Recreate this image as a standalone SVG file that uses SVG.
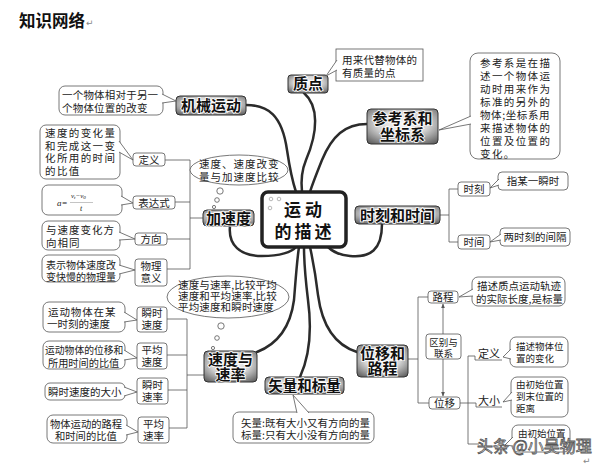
<svg xmlns="http://www.w3.org/2000/svg" width="601" height="467" viewBox="0 0 601 467">
<defs>
<radialGradient id="g" cx="0.5" cy="0.42" r="0.72">
<stop offset="0" stop-color="#fafafa"/>
<stop offset="0.5" stop-color="#d4d4d4"/>
<stop offset="1" stop-color="#5e5e5e"/>
</radialGradient>
<marker id="ah" viewBox="0 0 8 8" refX="7" refY="4" markerWidth="6" markerHeight="6" orient="auto-start-reverse">
<path d="M0,0.8 L8,4 L0,7.2 Z" fill="#555"/>
</marker>
<style>
.t{font-family:"Noto Sans CJK SC","Noto Sans",sans-serif;font-weight:700;font-size:15px;fill:#111;text-anchor:middle;stroke:#fff;stroke-width:1.6px;paint-order:stroke}
.d{font-family:"Noto Sans CJK SC","Noto Sans",sans-serif;font-size:10.5px;fill:#222}
.m{text-anchor:middle}
.topic{fill:url(#g);stroke:#333;stroke-width:1}
.box{fill:#fff;stroke:#555;stroke-width:0.8}
.br{fill:none;stroke:#555;stroke-width:0.8}
.main{fill:none;stroke:#2b2b2b;stroke-width:2.5;stroke-linecap:round}
.tail{fill:#fff;stroke:#555;stroke-width:0.8}
.bub{fill:#fff;stroke:#555;stroke-width:0.8}
.s{font-size:9.5px}
</style>
</defs>
<rect width="601" height="467" fill="#fff"/>

<g id="title">
<text x="19" y="27" style="font-family:'Noto Sans CJK SC',sans-serif;font-weight:700;font-size:16.5px;fill:#111">知识网络</text>
<text x="86" y="26" style="font-family:'DejaVu Sans',sans-serif;font-size:9px;fill:#888">↵</text>
</g>

<g id="connectors">
<path class="main" d="M246,105 C268,105 282,115 287,150 C290,170 293,183 296,192"/>
<path class="main" d="M304,93 C319,106 318,132 306,160 C301,172 301,183 302,192"/>
<path class="main" d="M367,124 C345,124 332,136 322,160 C316,175 312,185 310,192"/>
<path class="main" d="M382,224 C382,250 370,258 350,256 C338,255 332,251 328,247"/>
<path class="main" d="M230,226 C228,245 240,256 262,256 C280,256 292,252 296,247"/>
<path class="main" d="M257,352 C275,345 290,330 294,300 C296,275 297,260 299,247"/>
<path class="main" d="M300,377 C310,355 312,330 308,300 C305,275 304,260 304,247"/>
<path class="main" d="M357,352 C335,345 322,325 318,295 C315,270 312,256 310,247"/>
<path class="br" d="M165,160 H190 M175,202 H190 M167,239 H190 M167,269 H190 M190,160 V269 M190,218 H203"/>
<path class="br" d="M167,319 H187 M167,355 H187 M168,390 H187 M169,428 H187 M187,319 V428 M187,375 H204"/>
<path class="br" d="M440,215 H449 M449,189 V242 M449,189 H458 M449,242 H458"/>
<path class="br" d="M408,359 H418 M418,297 V403 M418,297 H428 M418,403 H429"/>
<path class="br" d="M443,334 V304" marker-end="url(#ah)"/>
<path class="br" d="M443,359 V396" marker-end="url(#ah)"/>
<path class="br" d="M460,403 H476 V407 H502"/>
<path class="br" d="M468,444 V356 H475 V360 H502 M468,444 H479"/>
</g>

<g id="center">
<rect x="262" y="192" width="84" height="55" rx="6" fill="#fff" stroke="#222" stroke-width="3.5"/>
<circle cx="271" cy="199" r="1.8" fill="none" stroke="#999" stroke-width="0.7"/>
<circle cx="279" cy="199" r="1.8" fill="none" stroke="#999" stroke-width="0.7"/>
<circle cx="270" cy="208" r="1.8" fill="none" stroke="#999" stroke-width="0.7"/>
<text x="305" y="216" style="font-family:'Noto Sans CJK SC',serif;font-weight:700;font-size:17px;fill:#111;text-anchor:middle;letter-spacing:4px">运动<tspan x="304.5" dy="22" style="letter-spacing:3px">的描述</tspan></text>
</g>

<g id="jixie">
<rect class="topic" x="176" y="96" width="70" height="19" rx="4"/>
<text class="t" x="211" y="111">机械运动</text>
</g>
<g id="jixie-desc">
<rect class="box" x="59" y="86" width="104" height="29" rx="6"/>
<path class="tail" d="M162,94 L176,101 L162,103"/>
<text class="d" x="62" y="99" style="letter-spacing:0.2px">一个物体相对于另一<tspan x="62" dy="13">个物体位置的改变</tspan></text>
</g>

<g id="zhidian">
<rect class="topic" x="288" y="75" width="40" height="18" rx="3"/>
<text class="t" x="308" y="89">质点</text>
</g>
<g id="zhidian-desc">
<rect class="box" x="336" y="49" width="87" height="32"/>
<path class="tail" d="M337,60 L326,76 L337,70"/>
<text class="d" x="342" y="64" style="letter-spacing:0.25px">用来代替物体的<tspan x="342" dy="13">有质量的点</tspan></text>
</g>

<g id="cankao">
<rect class="topic" x="367" y="109" width="71" height="35" rx="4"/>
<text class="t" x="402.5" y="124">参考系和<tspan x="402.5" dy="16">坐标系</tspan></text>
</g>
<g id="cankao-desc">
<rect class="box" x="470" y="53" width="90" height="106" rx="8"/>
<path class="tail" d="M471,116 L439,130 L471,124"/>
<text class="d" x="480" y="67" style="letter-spacing:1.4px">参考系是在描<tspan x="480" dy="13">述一个物体运</tspan><tspan x="480" dy="13">动时用来作为</tspan><tspan x="480" dy="13">标准的另外的</tspan><tspan x="480" dy="13" style="letter-spacing:0.6px">物体;坐标系用</tspan><tspan x="480" dy="13">来描述物体的</tspan><tspan x="480" dy="13">位置及位置的</tspan><tspan x="480" dy="12.5">变化。</tspan></text>
</g>

<g id="shike-shijian">
<rect class="topic" x="355" y="206" width="85" height="18" rx="4"/>
<text class="t" x="397.5" y="220.5">时刻和时间</text>
</g>
<g id="shike">
<rect class="box" x="458" y="182" width="32" height="14" rx="3"/>
<text class="d m" x="474" y="193">时刻</text>
</g>
<g id="shike-desc">
<rect class="box" x="498" y="172" width="70" height="18" rx="4"/>
<path class="tail" d="M499,179 L490,188 L499,185"/>
<text class="d m" x="533" y="185">指某一瞬时</text>
</g>
<g id="shijian">
<rect class="box" x="458" y="235" width="32" height="14" rx="3"/>
<text class="d m" x="474" y="246">时间</text>
</g>
<g id="shijian-desc">
<rect class="box" x="500" y="228" width="70" height="18" rx="4"/>
<path class="tail" d="M501,234 L490,242 L501,240"/>
<text class="d m" x="535" y="241">两时刻的间隔</text>
</g>

<g id="jiasudu">
<rect class="topic" x="203" y="210" width="51" height="16" rx="4"/>
<text class="t" x="228.5" y="223.5">加速度</text>
</g>
<g id="jiasudu-bubble">
<ellipse class="bub" cx="239" cy="170" rx="49" ry="15"/>
<circle class="bub" cx="220" cy="191" r="3.2"/>
<circle class="bub" cx="217" cy="200" r="2.3"/>
<circle class="bub" cx="214" cy="207" r="1.6"/>
<text class="d" x="199" y="168" style="letter-spacing:1px">速度、速度改变<tspan x="199" dy="13">量与加速度比较</tspan></text>
</g>
<g id="dingyi">
<rect class="box" x="133" y="153" width="32" height="13" rx="3"/>
<text class="d m" x="149" y="163.5">定义</text>
</g>
<g id="dingyi-desc">
<rect class="box" x="40" y="125" width="80" height="54" rx="6"/>
<path class="tail" d="M119,141 L133,160 L119,152"/>
<text class="d" x="45" y="137" style="letter-spacing:1.4px">速度的变化量<tspan x="45" dy="12.5">和完成这一变</tspan><tspan x="45" dy="12.5">化所用的时间</tspan><tspan x="45" dy="12.5">的比值</tspan></text>
</g>
<g id="biaodashi">
<rect class="box" x="133" y="196" width="42" height="13" rx="3"/>
<text class="d m" x="154" y="206.5">表达式</text>
</g>
<g id="biaodashi-desc">
<rect class="box" x="42" y="185" width="80" height="30" rx="6"/>
<path class="tail" d="M121,196 L133,203 L121,205"/>
<text x="57" y="206" style="font-family:'Liberation Serif',serif;font-style:italic;font-size:9px;fill:#222">a=</text>
<text x="71" y="198" style="font-family:'Liberation Serif',serif;font-style:italic;font-size:7px;fill:#222">v<tspan font-size="5" dy="1">t</tspan><tspan dy="-1">−v</tspan><tspan font-size="5" dy="1">0</tspan></text>
<path d="M70,202.5 H93" stroke="#888" stroke-width="0.5"/>
<text x="80" y="211" style="font-family:'Liberation Serif',serif;font-style:italic;font-size:8px;fill:#222">t</text>
</g>
<g id="fangxiang">
<rect class="box" x="135" y="233" width="32" height="12" rx="3"/>
<text class="d m" x="151" y="243">方向</text>
</g>
<g id="fangxiang-desc">
<rect class="box" x="42" y="221" width="78" height="29" rx="6"/>
<path class="tail" d="M119,232 L135,239 L119,240"/>
<text class="d" x="46" y="234" style="letter-spacing:1px">与速度变化方<tspan x="46" dy="12.5">向相同</tspan></text>
</g>
<g id="wuliyiyi">
<rect class="box" x="135" y="259" width="32" height="27" rx="3"/>
<text class="d m" x="151" y="270">物理<tspan x="151" dy="12">意义</tspan></text>
</g>
<g id="wuliyiyi-desc">
<rect class="box" x="42" y="255" width="78" height="27" rx="6"/>
<path class="tail" d="M119,265 L135,270 L119,274"/>
<text class="d" x="46" y="268.5" style="font-size:10px">表示物体速度改<tspan x="46" dy="12">变快慢的物理量</tspan></text>
</g>

<g id="sudu-sulv">
<rect class="topic" x="204" y="351" width="53" height="31" rx="4"/>
<text class="t" x="230.5" y="365">速度与<tspan x="230.5" dy="15">速率</tspan></text>
</g>
<g id="sudu-bubble">
<ellipse class="bub" cx="228" cy="297" rx="61" ry="21"/>
<circle class="bub" cx="221" cy="326" r="3.2"/>
<circle class="bub" cx="217" cy="338" r="2.3"/>
<circle class="bub" cx="213" cy="348" r="1.6"/>
<text class="d" x="178" y="289" style="letter-spacing:0.15px">速度与速率,比较平均<tspan x="178" dy="11">速度和平均速率,比较</tspan><tspan x="178" dy="11">平均速度和瞬时速度</tspan></text>
</g>
<g id="shunshisudu">
<rect class="box" x="137" y="307" width="30" height="25" rx="3"/>
<text class="d m" x="152" y="317">瞬时<tspan x="152" dy="12">速度</tspan></text>
</g>
<g id="shunshisudu-desc">
<rect class="box" x="43" y="302" width="82" height="30" rx="6"/>
<path class="tail" d="M124,312 L137,320 L124,322"/>
<text class="d" x="48" y="316" style="letter-spacing:0.9px">运动物体在某<tspan x="47" dy="12" style="letter-spacing:0">一时刻的速度</tspan></text>
</g>
<g id="pingjunsudu">
<rect class="box" x="137" y="343" width="30" height="26" rx="3"/>
<text class="d m" x="152" y="354">平均<tspan x="152" dy="12">速度</tspan></text>
</g>
<g id="pingjunsudu-desc">
<rect class="box" x="43" y="341" width="82" height="28" rx="6"/>
<path class="tail" d="M124,350 L137,358 L124,360"/>
<text class="d" x="45" y="354" style="font-size:9.8px">运动物体的位移和<tspan x="48" dy="12.5" style="font-size:10.2px">所用时间的比值</tspan></text>
</g>
<g id="shunshisulv">
<rect class="box" x="137" y="378" width="31" height="26" rx="3"/>
<text class="d m" x="152.5" y="389">瞬时<tspan x="152.5" dy="12">速率</tspan></text>
</g>
<g id="shunshisulv-desc">
<rect class="box" x="45" y="383" width="80" height="17" rx="5"/>
<path class="tail" d="M124,387 L137,392 L124,396"/>
<text class="d" x="48" y="396">瞬时速度的大小</text>
</g>
<g id="pingjunsulv">
<rect class="box" x="138" y="417" width="31" height="26" rx="3"/>
<text class="d m" x="153.5" y="428">平均<tspan x="153.5" dy="12">速率</tspan></text>
</g>
<g id="pingjunsulv-desc">
<rect class="box" x="47" y="415" width="80" height="28" rx="6"/>
<path class="tail" d="M126,425 L138,432 L126,435"/>
<text class="d" x="50" y="428" style="font-size:10.3px">物体运动的路程<tspan x="55" dy="12">和时间的比值</tspan></text>
</g>

<g id="shiliang">
<rect class="topic" x="265" y="377" width="79" height="17" rx="4"/>
<text class="t" x="304.5" y="391" style="font-size:14.5px">矢量和标量</text>
</g>
<g id="shiliang-desc">
<rect class="box" x="233" y="412" width="141" height="31" rx="6"/>
<path class="tail" d="M297,413 L293,395 L309,413"/>
<text class="d" x="241" y="426.5">矢量:既有大小又有方向的量<tspan x="241" dy="12.5">标量:只有大小没有方向的量</tspan></text>
</g>

<g id="weiyi-lucheng">
<rect class="topic" x="357" y="345" width="51" height="32" rx="4"/>
<text class="t" x="382.5" y="359">位移和<tspan x="382.5" dy="15">路程</tspan></text>
</g>
<g id="lucheng">
<rect class="box" x="428" y="291" width="30" height="12" rx="3"/>
<text class="d m" x="443" y="301">路程</text>
</g>
<g id="lucheng-desc">
<rect class="box" x="472" y="277" width="93" height="29" rx="6"/>
<path class="tail" d="M473,289 L459,297 L473,296"/>
<text class="d" x="477" y="290">描述质点运动轨迹<tspan x="476" dy="13">的实际长度,是标量</tspan></text>
</g>
<g id="qubie">
<rect class="box" x="426" y="334" width="35" height="25" rx="3"/>
<text class="d m s" x="443.5" y="345.5">区别与<tspan x="443.5" dy="11">联系</tspan></text>
</g>
<g id="weiyi">
<rect class="box" x="429" y="397" width="31" height="12" rx="3"/>
<text class="d m" x="444.5" y="407">位移</text>
</g>
<g id="weiyi-dingyi">
<text class="d m" x="489" y="358" style="font-size:11px">定义</text>
</g>
<g id="weiyi-dingyi-desc">
<rect class="box" x="510" y="337" width="58" height="30" rx="6"/>
<path class="tail" d="M511,349 L503,357 L511,359"/>
<text class="d s" x="516" y="349.5">描述物体位<tspan x="516" dy="12">置的变化</tspan></text>
</g>
<g id="weiyi-daxiao">
<text class="d m" x="489" y="405" style="font-size:11px">大小</text>
</g>
<g id="weiyi-daxiao-desc">
<rect class="box" x="511" y="377" width="57" height="40" rx="6"/>
<path class="tail" d="M512,392 L503,402 L512,400"/>
<text class="d s" x="516" y="388">由初始位置<tspan x="516" dy="12">到末位置的</tspan><tspan x="516" dy="12">距离</tspan></text>
</g>
<g id="weiyi-fangxiang-desc">
<rect class="box" x="512" y="425" width="58" height="27" rx="6"/>
<path class="tail" d="M513,437 L505,445 L513,446"/>
<text class="d s" x="518" y="437">由初始位置</text>
</g>

<g id="watermark">
<text x="477" y="452" style="font-family:'Noto Sans CJK SC',sans-serif;font-size:16px;fill:#fff;stroke:#555;stroke-width:0.8px">头条 @小吴物理</text>
<text x="583" y="464" style="font-family:'DejaVu Sans',sans-serif;font-size:9px;fill:#888">↵</text>
</g>
</svg>
